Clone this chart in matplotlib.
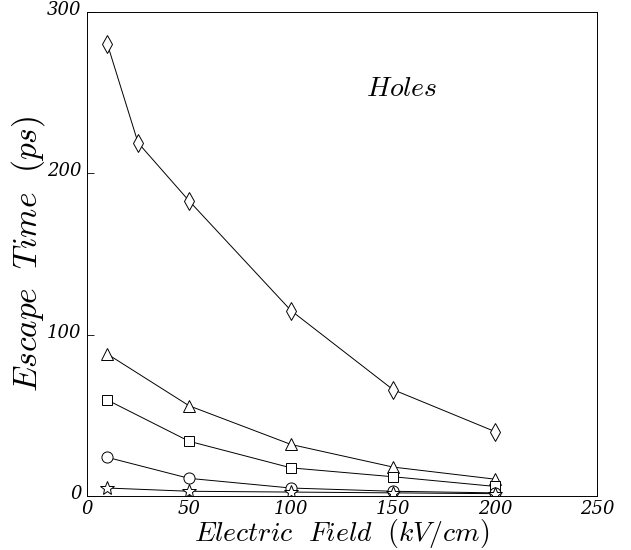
import numpy as np
import matplotlib.pyplot as plt
from matplotlib.transforms import ScaledTranslation

plt.rcParams['mathtext.fontset'] = 'cm'
plt.rcParams['font.family'] = 'serif'
plt.rcParams['font.serif'] = ['DejaVu Serif']

# escape time (ps) vs electric field (kV/cm)
field_diamond = [10, 25, 50, 100, 150, 200]
t_diamond = [280, 219, 183, 115, 66, 40]

field = [10, 50, 100, 150, 200]
t_triangle = [88, 56, 32, 18, 10.5]
t_square = [59.5, 34, 17.5, 12, 6]
t_circle = [24, 11, 5, 3, 2]
t_star = [5, 3, 2.5, 2, 1.5]

xticks = [0, 50, 100, 150, 200, 250]
yticks = [0, 100, 200, 300]

fig = plt.figure(figsize=(6.31, 5.5), dpi=100)
ax = fig.add_axes([0.138, 0.098, 0.808, 0.88])

style = dict(color='black', lw=0.7, mfc='white', mec='black', mew=0.7)
ax.plot(field_diamond, t_diamond, marker='d', ms=9, **style)
ax.plot(field, t_triangle, marker='^', ms=8, **style)
ax.plot(field, t_square, marker='s', ms=7, **style)
ax.plot(field, t_circle, marker='o', ms=8, **style)
ax.plot(field, t_star, marker='*', ms=10, **style)

ax.set_xlim(0, 250)
ax.set_ylim(0, 300)
ax.tick_params(direction='in', length=5, width=0.6)
ax.tick_params(axis='x', pad=3)
ax.tick_params(axis='y', pad=4)
ax.set_xticks(xticks)
ax.set_yticks(yticks)
ax.set_xticklabels([str(v) for v in xticks], fontsize=13, style='italic')
ax.set_yticklabels([str(v) for v in yticks], fontsize=13, style='italic')
shift = ScaledTranslation(0, 3 / 72, fig.dpi_scale_trans)
for lab in ax.get_yticklabels():
    lab.set_transform(lab.get_transform() + shift)
for s in ax.spines.values():
    s.set_linewidth(0.7)

ax.set_xlabel(r'$Electric\ \ Field\ \ (kV/cm)$', fontsize=20, va='bottom')
ax.xaxis.set_label_coords(0.5, -0.112)
ax.set_ylabel(r'$Escape\ \ Time\ \ (ps)$', fontsize=24, labelpad=0)
ax.text(137, 248, r'$Holes$', fontsize=20)

fig.savefig('out.png', dpi=100)
